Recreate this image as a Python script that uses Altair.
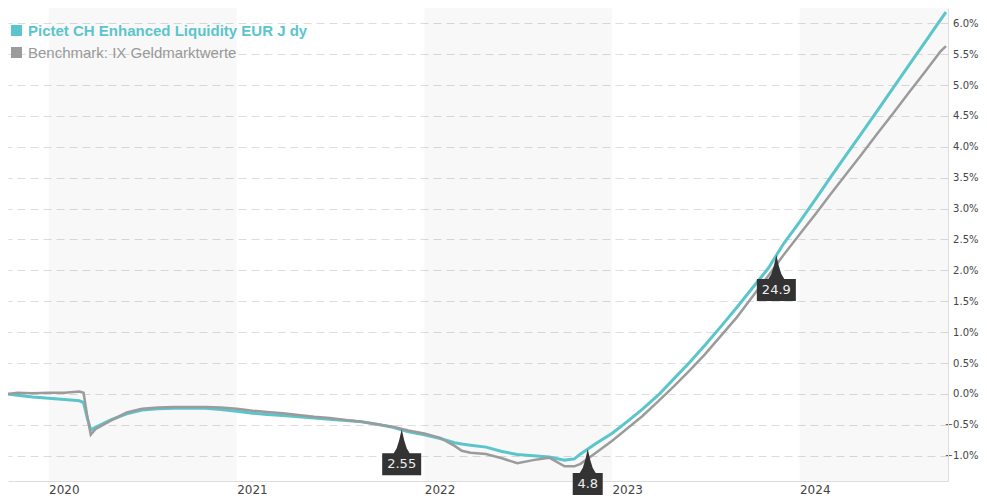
import altair as alt
import pandas as pd

# ---------------- data ----------------
dates = [
    "2019-10-14", "2019-11-01", "2019-12-01",
    "2020-01-01", "2020-02-01", "2020-03-01", "2020-03-09", "2020-03-16", "2020-03-23",
    "2020-04-01", "2020-05-01", "2020-06-01", "2020-07-01", "2020-08-01", "2020-09-01",
    "2020-10-01", "2020-11-01", "2020-12-01",
    "2021-01-01", "2021-02-01", "2021-03-01", "2021-04-01", "2021-05-01", "2021-06-01",
    "2021-07-01", "2021-08-01", "2021-09-01", "2021-10-01", "2021-11-01", "2021-12-01",
    "2022-01-01", "2022-02-01", "2022-03-01", "2022-03-15", "2022-04-01", "2022-05-01",
    "2022-06-01", "2022-07-01", "2022-08-01", "2022-09-01", "2022-10-01", "2022-10-20",
    "2022-11-01", "2022-12-01",
    "2023-01-01", "2023-02-01", "2023-03-01", "2023-04-01", "2023-05-01", "2023-06-01",
    "2023-07-01", "2023-08-01", "2023-09-01", "2023-10-01", "2023-11-01", "2023-12-01",
    "2024-01-01", "2024-02-01", "2024-03-01", "2024-04-01", "2024-05-01", "2024-06-01",
    "2024-07-01", "2024-08-01", "2024-09-01", "2024-10-01", "2024-10-12",
]

fund = [
    0.00, -0.02, -0.05,
    -0.07, -0.09, -0.11, -0.14, -0.38, -0.58,
    -0.54, -0.42, -0.32, -0.26, -0.24, -0.23,
    -0.23, -0.23, -0.25,
    -0.28, -0.31, -0.33, -0.35, -0.37, -0.39,
    -0.41, -0.43, -0.45, -0.49, -0.54, -0.61,
    -0.66, -0.72, -0.79, -0.81, -0.83, -0.86,
    -0.93, -0.98, -1.00, -1.02, -1.07, -1.05,
    -0.97, -0.80,
    -0.64, -0.44, -0.25, -0.02, 0.24, 0.51,
    0.79, 1.09, 1.40, 1.71, 2.03, 2.43,
    2.78, 3.15, 3.50, 3.87, 4.22, 4.59,
    4.95, 5.32, 5.69, 6.05, 6.18,
]

bench = [
    0.00, 0.02, 0.01,
    0.02, 0.02, 0.04, 0.02, -0.35, -0.66,
    -0.57, -0.43, -0.30, -0.24, -0.22, -0.21,
    -0.21, -0.21, -0.22,
    -0.24, -0.27, -0.29, -0.31, -0.34, -0.37,
    -0.39, -0.42, -0.45, -0.49, -0.53, -0.59,
    -0.64, -0.71, -0.84, -0.92, -0.95, -0.97,
    -1.04, -1.12, -1.07, -1.03, -1.17, -1.17,
    -1.13, -0.95,
    -0.76, -0.55, -0.36, -0.12, 0.12, 0.38,
    0.64, 0.94, 1.24, 1.57, 1.91, 2.25,
    2.58, 2.91, 3.23, 3.56, 3.88, 4.22,
    4.54, 4.88, 5.21, 5.54, 5.63,
]

series_names = ["Pictet CH Enhanced Liquidity EUR J dy", "Benchmark: IX Geldmarktwerte"]
series_colors = ["#5bc5cc", "#9b9b9b"]

band_starts = ["2020-01-01", "2022-01-01", "2024-01-01"]
band_ends = ["2021-01-01", "2023-01-01", "2024-10-16"]

year_ticks = [2020, 2021, 2022, 2023, 2024]
y_ticks = [-1.0, -0.5, 0.0, 0.5, 1.0, 1.5, 2.0, 2.5, 3.0, 3.5, 4.0, 4.5, 5.0, 5.5, 6.0]

note_dates = ["2021-11-18", "2022-11-15", "2023-11-17"]
note_values = [-0.57, -0.89, 2.25]
note_labels = ["2.55", "4.8", "24.9"]

x_start = (2019, 10, 14)
x_end = (2024, 10, 16)
y_domain = [-1.408, 6.246]

# ---------------- tables ----------------
lines_df = pd.concat([
    pd.DataFrame({"date": dates, "value": fund, "series": series_names[0]}),
    pd.DataFrame({"date": dates, "value": bench, "series": series_names[1]}),
], ignore_index=True)
bands_df = pd.DataFrame({"start": band_starts, "end": band_ends})
notes_df = pd.DataFrame({"date": note_dates, "value": note_values, "label": note_labels})


def dt(y, m, d):
    return alt.DateTime(year=y, month=m, date=d, utc=True)


x_scale = alt.Scale(type="utc", domain=[dt(*x_start), dt(*x_end)])
y_scale = alt.Scale(domain=y_domain, nice=False, zero=False)

x_axis = alt.Axis(
    values=[dt(y, 1, 1) for y in year_ticks], format="%Y", labelAlign="left",
    labelFont="DejaVu Sans", labelFontSize=12, labelColor="#444", labelPadding=3,
    grid=False, ticks=False, domainColor="#dddddd", domainWidth=1, title=None,
)
y_axis = alt.Axis(
    orient="right", values=y_ticks, labelExpr="format(datum.value, '.1f') + '%'",
    labelAlign="right", labelPadding=30, labelOverlap=False, labelFont="DejaVu Sans",
    labelFontSize=10, labelColor="#444", ticks=False, domainColor="#dddddd",
    gridColor="#dddddd", gridDash=[8, 5], gridWidth=1, title=None,
)

X = alt.X("date:T", scale=x_scale, axis=x_axis)
Y = alt.Y("value:Q", scale=y_scale, axis=y_axis)

bands = alt.Chart(bands_df).mark_rect(color="#000000", opacity=0.028).encode(
    x=alt.X("start:T", scale=x_scale, axis=x_axis),
    x2="end:T",
)

legend = alt.Legend(
    title=None, orient="none", legendX=1, legendY=15, symbolType="square",
    symbolSize=121, symbolStrokeWidth=0, labelFont="Liberation Sans", labelFontSize=15,
    labelOffset=4, rowPadding=6, padding=0, labelLimit=500,
    symbolFillColor=alt.ExprRef("scale('color', datum.value)"),
    labelColor=alt.ExprRef(f"datum.label == '{series_names[1]}' ? '#999999' : '{series_colors[0]}'"),
    labelFontWeight=alt.ExprRef(f"datum.label == '{series_names[1]}' ? 'normal' : 'bold'"),
)

color = alt.Color("series:N", scale=alt.Scale(domain=series_names, range=series_colors),
                  legend=legend)

base = alt.Chart(lines_df).encode(x=X, y=Y, color=color)
fund_line = base.transform_filter(alt.datum.series == series_names[0]).mark_line(strokeWidth=3)
bench_line = base.transform_filter(alt.datum.series == series_names[1]).mark_line(strokeWidth=2.5)

note_layers = []
for lab in note_labels:
    h = (9 * len(lab) + 3) / 2
    path = (f"M0,0 L2.5,11 L5,19 L8,24 L{h},24 L{h},46 L{-h},46 L{-h},24 "
            f"L-8,24 L-5,19 L-2.5,11 Z")
    nb = alt.Chart(notes_df).transform_filter(alt.datum.label == lab).encode(x=X, y=Y)
    note_layers.append(nb.mark_point(shape=path, size=4, filled=True, fill="#333333",
                                     opacity=1, strokeWidth=0))
    note_layers.append(nb.mark_text(dy=35, color="#f0f0f0", font="DejaVu Sans",
                                    fontSize=13, baseline="middle", align="center")
                       .encode(text="label:N"))

chart = alt.layer(bands, fund_line, bench_line, *note_layers).properties(
    width=940, height=473,
    autosize=alt.AutoSizeParams(type="none"),
    padding={"left": 0, "top": 0, "right": 31, "bottom": 19},
).configure_view(stroke=None)

chart.save("out.html", embed_options={"renderer": "svg", "actions": False})
